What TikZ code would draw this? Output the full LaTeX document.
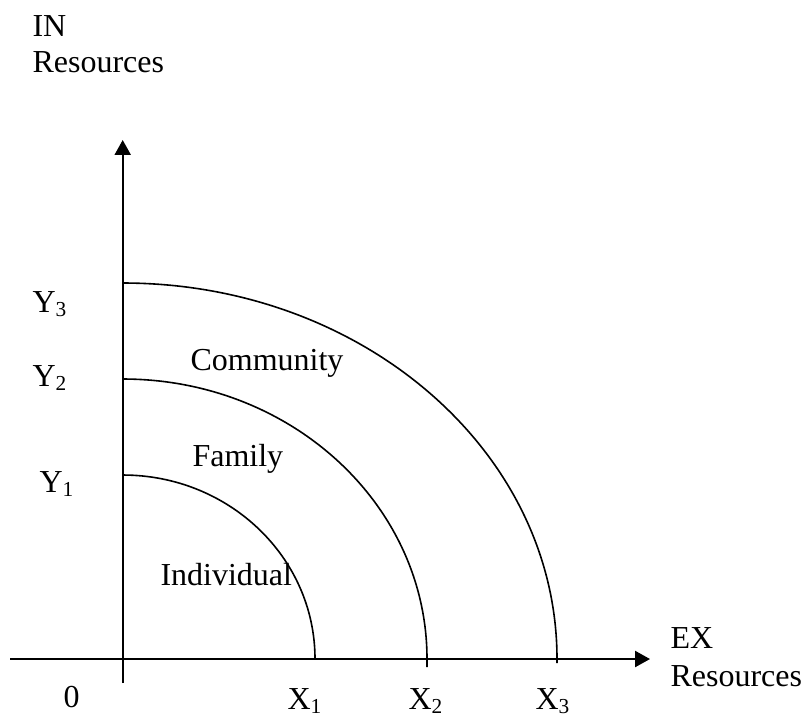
\documentclass[tikz,border=0pt]{standalone}
\usepackage{fontspec}
\setmainfont{Liberation Serif}
\usetikzlibrary{arrows.meta}
\begin{document}
\begin{tikzpicture}[x=0.375pt, y=-0.375pt]
            \useasboundingbox (0,0) rectangle (807,716);
            \begin{scope}[every node/.style={inner sep=0pt, anchor=base west, font=\fontsize{12pt}{14pt}\selectfont}]

                \coordinate (o) at (122.7,659);
                \coordinate (xstart) at (10,659);
                \coordinate (xend) at (650,659);
                \coordinate (ystart) at (122.7,683);
                \coordinate (yend) at (122.7,140);

                \draw[line width=0.8pt, -{Triangle[length=5.6pt, width=6pt]}] (xstart) -- (xend);
                \draw[line width=0.8pt, -{Triangle[length=5.6pt, width=6pt]}] (ystart) -- (yend);

                \coordinate (y1) at (122.7,475);
                \coordinate (y2) at (122.7,379);
                \coordinate (y3) at (122.7,283);

                \draw[line width=0.6pt] (y1) arc[start angle=-90, end angle=0, x radius=192.3, y radius=184];
                \draw[line width=0.6pt] (y2) arc[start angle=-90, end angle=0, x radius=304.3, y radius=280] -- ++(0,8);
                \draw[line width=0.6pt] (y3) arc[start angle=-90, end angle=0, x radius=434.3, y radius=376] -- ++(0,4);

                \node (in) at (32,36) {IN};
                \node (inres) at (32,72) {Resources};

                \node (ex) at (670,648) {EX};
                \node (exres) at (670,686) {Resources};

                \node (ly3) at (32,312) {Y\textsubscript{3}};
                \node (ly2) at (32,386) {Y\textsubscript{2}};
                \node (ly1) at (39,492) {Y\textsubscript{1}};

                \node (zero) at (63,707) {0};
                \node (lx1) at (287,709) {X\textsubscript{1}};
                \node (lx2) at (408,709) {X\textsubscript{2}};
                \node (lx3) at (535,709) {X\textsubscript{3}};

                \node (comm) at (190,370) {Community};
                \node (fam) at (192,466) {Family};
                \node (ind) at (160,585) {Individual};

            \end{scope}
        \end{tikzpicture}
\end{document}
